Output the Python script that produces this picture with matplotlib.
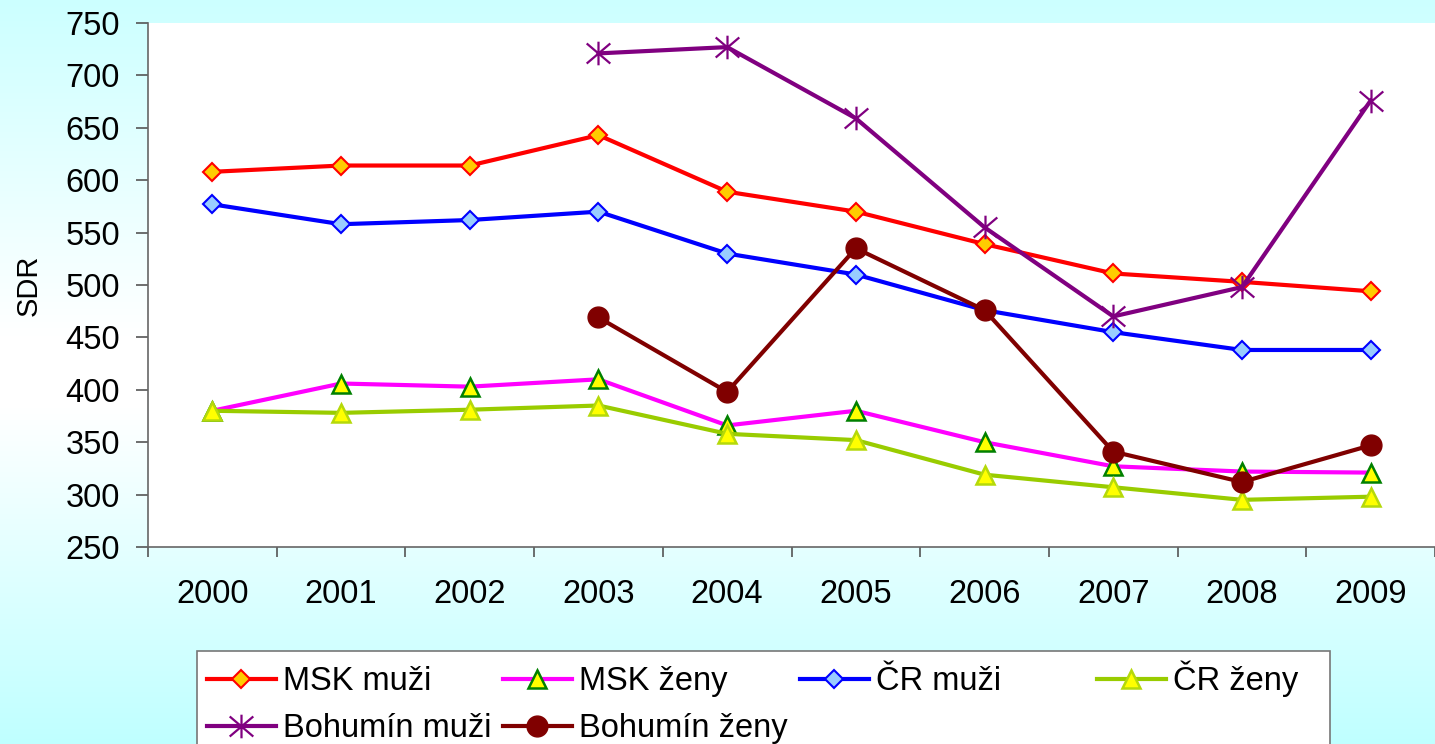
import numpy as np
import matplotlib
matplotlib.use("Agg")
import matplotlib.pyplot as plt
from matplotlib.path import Path
from matplotlib.patches import Rectangle

plt.rcParams['font.family'] = ['Liberation Sans', 'DejaVu Sans']

years = ['2000', '2001', '2002', '2003', '2004', '2005', '2006', '2007', '2008', '2009']
msk_muzi = [608, 614, 614, 643, 589, 570, 539, 511, 503, 494]
msk_zeny = [380, 406, 403, 410, 366, 380, 350, 327, 322, 321]
cr_muzi = [577, 558, 562, 570, 530, 510, 476, 455, 438, 438]
cr_zeny = [380, 378, 381, 385, 358, 352, 319, 307, 295, 298]
boh_muzi = [np.nan, np.nan, np.nan, 721, 727, 659, 555, 470, 498, 676]
boh_zeny = [np.nan, np.nan, np.nan, 469, 398, 535, 476, 341, 312, 347]
labels = ['MSK muži', 'MSK ženy', 'ČR muži', 'ČR ženy', 'Bohumín muži', 'Bohumín ženy']

W, H = 1435, 744
fig = plt.figure(figsize=(W / 100, H / 100), dpi=100)

# background gradient
bg = fig.add_axes([0, 0, 1, 1], zorder=-10)
t = np.linspace(0, 1, 400)
r = np.interp(t, [0, 0.45, 0.55, 1.0], [0.80, 1.0, 1.0, 0.75])
img = np.zeros((400, 2, 3))
img[:, :, 0] = r[:, None]
img[:, :, 1] = 1.0
img[:, :, 2] = 1.0
bg.imshow(img, aspect='auto', extent=[0, 1, 0, 1], origin='upper')
bg.set_xlim(0, 1)
bg.set_ylim(0, 1)
bg.axis('off')

left = 148 / W
bottom = 1 - 547 / H
top = 1 - 23 / H
ax = fig.add_axes([left, bottom, 1 - left, top - bottom])
ax.set_facecolor('white')

x = np.arange(len(years))
lw = 3
star = Path([(0, -1), (0, 1), (-1, -0.85), (1, 0.85), (-1, 0.85), (1, -0.85)],
            [Path.MOVETO, Path.LINETO, Path.MOVETO, Path.LINETO, Path.MOVETO, Path.LINETO])

h1, = ax.plot(x, msk_muzi, color='#FF0000', lw=lw, marker='D', ms=9,
              mfc='#FFCC00', mec='#FF0000', mew=1.5, label=labels[0])
h2, = ax.plot(x, msk_zeny, color='#FF00FF', lw=lw, marker='^', ms=13,
              mfc='#FFFF00', mec='#008000', mew=1.8, label=labels[1])
h3, = ax.plot(x, cr_muzi, color='#0000FF', lw=lw, marker='D', ms=9,
              mfc='#99CCFF', mec='#0000FF', mew=1.5, label=labels[2])
h4, = ax.plot(x, cr_zeny, color='#99CC00', lw=lw, marker='^', ms=13,
              mfc='#FFFF00', mec='#B5D90A', mew=1.8, label=labels[3])
h5, = ax.plot(x, boh_muzi, color='#800080', lw=lw, marker=star, ms=17,
              mec='#800080', mew=1.6, label=labels[4])
h6, = ax.plot(x, boh_zeny, color='#800000', lw=lw, marker='o', ms=15,
              mfc='#800000', mec='#800000', label=labels[5])

fs = 23.5
ax.set_ylim(250, 750)
ax.set_yticks(np.arange(250, 751, 50))
ax.set_xlim(-0.5, 9.5 - 4 / 129.2)
ax.set_xticks(x)
ax.set_xticklabels(years)
ax.set_xticks(np.arange(-0.5, 10, 1), minor=True)
ax.tick_params(axis='x', which='major', length=0, pad=23, labelsize=fs)
ax.tick_params(axis='x', which='minor', length=7.5, width=1.2, color='#555555', direction='out')
ax.tick_params(axis='y', length=8.6, width=1.2, color='#555555', pad=11.5, labelsize=fs)

for s in ['top', 'right']:
    ax.spines[s].set_visible(False)
for s in ['left', 'bottom']:
    ax.spines[s].set_color('#666666')
    ax.spines[s].set_linewidth(1.2)

ax.set_ylabel('SDR', fontsize=21)
ax.yaxis.set_label_coords((43 - 148) / (W - 148), 0.5)

# legend frame
fig.patches.append(Rectangle((197 / W, -0.05), (1330 - 197) / W, (1 - 651 / H) + 0.05,
                             transform=fig.transFigure, facecolor='white',
                             edgecolor='#777777', lw=1.2, zorder=1))

handles = [h1, h2, h3, h4, h5, h6]
pos = [(207, 697), (503, 697), (800, 697), (1097, 697), (207, 744), (503, 744)]
for h, lab, (px, py) in zip(handles, labels, pos):
    lg = fig.legend(handles=[h], labels=[lab], loc='lower left',
                    bbox_to_anchor=(px / W, 1 - py / H), frameon=False,
                    borderpad=0, borderaxespad=0, handlelength=2.1,
                    handletextpad=0.24, fontsize=fs)
    lg.set_zorder(5)

fig.savefig('out.png', dpi=100)
